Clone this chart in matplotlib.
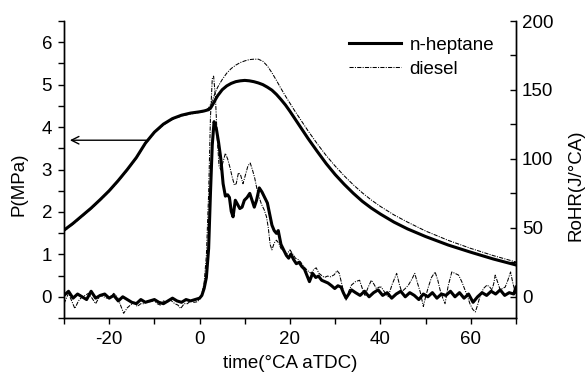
import matplotlib
matplotlib.use("Agg")
import matplotlib.pyplot as plt
from matplotlib.ticker import MultipleLocator

FS = 13.5
plt.rcParams['font.family'] = ['Liberation Sans', 'DejaVu Sans']
plt.rcParams['font.size'] = FS
plt.rcParams['axes.unicode_minus'] = False

# Cylinder pressure (MPa)
t_p_hep = [-30, -28, -26, -24, -22, -20, -18, -16, -14, -12, -10, -8, -6, -4, -2, 0,
           1, 2, 2.5, 3, 3.5, 4, 5, 6, 7, 8, 9, 10, 11, 12, 13, 14, 15, 16, 17, 18, 19, 20,
           21, 22, 23, 24, 26, 28, 30, 32, 34, 36, 38, 40, 43, 46, 50, 55, 60, 65, 70]
p_hep = [1.57, 1.73, 1.91, 2.09, 2.29, 2.50, 2.74, 3.00, 3.28, 3.62, 3.88, 4.07, 4.20, 4.28,
         4.33, 4.36,
         4.38, 4.41, 4.46, 4.55, 4.65, 4.74, 4.88, 4.97, 5.03, 5.07, 5.09, 5.10, 5.09, 5.07,
         5.04, 5.00, 4.94, 4.87, 4.77, 4.65, 4.52, 4.37, 4.21, 4.05, 3.89, 3.73, 3.43, 3.14,
         2.88, 2.65, 2.44, 2.25, 2.09, 1.95, 1.76, 1.60, 1.42, 1.22, 1.05, 0.89, 0.75]

t_p_die = [-30, -28, -26, -24, -22, -20, -18, -16, -14, -12, -10, -8, -6, -4, -2, 0,
           1, 2, 2.5, 3, 3.5, 4, 4.5, 5, 6, 7, 8, 9, 10, 11, 12, 13, 14, 15, 16, 17, 18, 19,
           20, 21, 22, 23, 24, 26, 28, 30, 32, 34, 36, 38, 40, 43, 46, 50, 55, 60, 65, 70]
p_die = [1.55, 1.71, 1.89, 2.07, 2.27, 2.48, 2.72, 2.98, 3.26, 3.60, 3.86, 4.05, 4.18, 4.26,
         4.31, 4.34,
         4.37, 4.45, 4.55, 4.68, 4.82, 4.94, 5.03, 5.12, 5.27, 5.38, 5.46, 5.52, 5.56, 5.59,
         5.60, 5.60, 5.55, 5.44, 5.28, 5.10, 4.91, 4.73, 4.56, 4.39, 4.23, 4.07, 3.91, 3.61,
         3.33, 3.08, 2.85, 2.64, 2.45, 2.28, 2.13, 1.93, 1.76, 1.55, 1.33, 1.14, 0.97, 0.82]

# Rate of heat release (J/°CA)
t_r_hep = [-30, -29, -28, -27, -26, -25, -24, -23, -22, -21, -20, -19, -18, -17, -16, -15, -14,
           -13, -12, -11, -10, -9, -8, -7, -6, -5, -4, -3, -2, -1, 0,
           0.5, 1.0, 1.5, 2.0, 2.4, 2.8, 3.2, 3.7, 4.2, 4.7, 5.2, 5.7, 6.2, 6.6, 7.0, 7.4, 7.9,
           8.4, 8.9, 9.4, 9.9, 10.5, 11.1, 11.6, 12.1, 12.6, 13.2, 13.8, 14.4, 15.0, 15.5, 16.0,
           16.5, 17.0, 17.4, 18.0, 18.6, 19.2, 19.7, 20.2, 20.8, 21.4, 22.0, 22.6, 23.2, 23.8,
           24.3, 25.0, 25.7, 26.3, 27.0, 27.7, 28.4, 29.2, 29.9, 30.6, 31.3, 31.8, 32.4, 33.0,
           33.6, 34.5, 35.5, 36.5, 37.5, 38.5, 39.5, 40.5, 41.5, 42.5, 43.5, 44.5, 45.5, 46.5,
           47.5, 48.5, 49.5, 50.5, 51.5, 52.5, 53.5, 54.5, 55.5, 56.5, 57.5, 58.5, 59.5, 60.5,
           61.5, 62.5, 63.5, 64.5, 65.5, 66.5, 67.5, 68.5, 69.5, 70]
r_hep = [1, 4, -1, 2, 0, -2, 4, -1, 1, 2, -1, 1, -3, 0, -2, -4, -5, -2, -4, -3, -2, -4, -5, -3,
         -1, -3, -4, -2, -3, -2, -1,
         1, 6, 14, 35, 75, 110, 127, 122, 112, 100, 82, 73, 74, 72, 62, 58, 70,
         67, 64, 65, 70, 72, 75, 70, 65, 70, 79, 76, 72, 68, 60, 52,
         48, 46, 48, 38, 34, 30, 28, 31, 27, 24, 25, 22, 20, 15,
         11, 17, 14, 15, 12, 11, 10, 8, 6, 8, 7, 3, -1, 2,
         5, 3, 1, 4, 0, 3, 5, 1, 3, -1, 2, 4, 0, 3,
         1, -2, 2, 0, 3, -1, 2, 1, 4, 0, 3, -1, 2, -4,
         0, 3, 1, 4, 2, 5, 1, 3, 2, 7]

t_r_die = [-30, -29, -28.3, -27.6, -26.8, -26, -25.3, -24.6, -23.8, -23, -22, -21.2, -20.5,
           -19.7, -19, -18.2, -17.5, -16.8, -16, -15.3, -14.5, -13.8, -13, -12.4, -11.5, -10.8,
           -10.1, -9.4, -8.7, -8, -7.2, -6.4, -5.5, -4.8, -4.2, -3.4, -2.7, -2, -1.2, -0.5, 0,
           0.5, 1.0, 1.5, 2.0, 2.4, 2.8, 3.1, 3.5, 3.9, 4.3, 4.7, 5.2, 5.7, 6.2, 6.7, 7.2, 7.7,
           8.1, 8.6, 9.1, 9.6, 10.1, 10.7, 11.2, 11.7, 12.2, 12.7, 13.2, 13.7, 14.3, 14.8, 15.2,
           15.6, 16.0, 16.5, 17.0, 17.5, 18.0, 18.6, 19.3, 20.0, 20.6, 21.2, 21.8, 22.4, 23.0,
           23.6, 24.2, 24.7, 25.3, 25.8, 26.4, 26.9, 27.6, 28.3, 29.0, 29.8, 30.4, 30.9, 31.4,
           31.9, 32.4, 33.0, 33.6, 34.5, 35.4, 36.0, 36.6, 37.3, 38.0, 38.6, 39.1, 39.7, 40.2,
           41.0, 41.7, 42.6, 43.6, 44.2, 44.7, 45.5, 46.2, 47.0, 47.6, 48.2, 48.8, 49.5, 50.0,
           50.6, 51.3, 52.1, 52.7, 53.2, 53.8, 54.3, 55.0, 55.8, 56.5, 57.3, 58.0, 58.7, 59.3,
           59.8, 60.4, 61.0, 61.5, 62.1, 62.8, 63.6, 64.2, 64.7, 65.1, 65.4, 65.9, 66.5, 67.0,
           67.6, 68.2, 68.8, 69.3, 69.9, 70]
r_die = [-5, 2.5, -3, -8.5, -3, 0, 1, 2.5, -1, -5, 1, 0, -1,
         0, 2.5, 0, -6, -12, -8, -6, -4, -7, -5, -5, -3, -4,
         -2.4, -5, -6, -3, -4, -2.4, -5, -6, -8.5, -5, -5, -3, -4, -3.6, -2,
         2, 10, 30, 75, 130, 158, 160, 145, 115, 95, 92, 98, 104, 100, 94, 87, 81,
         82, 90, 88, 82, 88, 95, 97, 92, 86, 78, 72, 67, 63, 58, 50,
         38, 34, 39, 41, 39, 35, 33, 31, 34, 31, 28, 27, 25, 22,
         20, 18, 17, 20, 21, 17, 15.7, 14, 15, 14.5, 16, 19, 17, 10,
         3, -2.4, 4, 8.5, 11, 12, 6, 1, 7, 12, 9, 6, 7, 7,
         3, 0, 9, 17, 9, 3.6, 6, 8.5, 13, 17, 10, 3.6, -7, 0,
         7, 14, 18, 12, 5, -1, -5, 8, 18, 17, 15.7, 11, 5, 0,
         -5, -9, -11, -6, 1, 6, 8.5, 7, 5, 10, 15.7, 11, 5, 6,
         7, 12, 18, 10, 2.5, 3]

labels = ['n-heptane', 'diesel']
heptane_style = dict(color='black', lw=2.2, ls='-')
diesel_style = dict(color='black', lw=0.75, ls=(0, (4, 1.2, 1, 1.2)))

fig = plt.figure(figsize=(5.87, 3.78), dpi=100)
ax = fig.add_axes([64 / 587, 60 / 378, 452 / 587, 297 / 378])
ax2 = ax.twinx()

ax.plot(t_p_die, p_die, **diesel_style)
ax.plot(t_p_hep, p_hep, **heptane_style)
ax2.plot(t_r_die, r_die, **diesel_style)
ax2.plot(t_r_hep, r_hep, **heptane_style)

ax.set_xlim(-30, 70)
ax.set_ylim(-0.5, 6.5)
ax2.set_ylim(-0.5 * 200 / 6.5, 200)

ax.xaxis.set_major_locator(MultipleLocator(20))
ax.xaxis.set_minor_locator(MultipleLocator(10))
ax.yaxis.set_major_locator(MultipleLocator(1))
ax.yaxis.set_minor_locator(MultipleLocator(0.5))
ax2.yaxis.set_major_locator(MultipleLocator(50))
ax2.yaxis.set_minor_locator(MultipleLocator(25))

for a in (ax, ax2):
    a.spines['top'].set_visible(False)
    for s in a.spines.values():
        s.set_linewidth(1.0)
ax.tick_params(axis='x', which='major', direction='out', length=4.2, width=1,
               labelsize=FS, pad=5)
ax.tick_params(axis='y', which='major', direction='out', length=4.2, width=1,
               labelsize=FS, pad=4.3)
ax.tick_params(axis='both', which='minor', direction='out', length=4.2, width=1)
ax2.tick_params(axis='y', which='major', direction='in', length=4.2, width=1,
                labelsize=FS, pad=4.3)
ax2.tick_params(axis='y', which='minor', direction='in', length=4.2, width=1)

ax.set_xlabel('time(°CA aTDC)', fontsize=FS, labelpad=5)
ax.set_ylabel('P(MPa)', fontsize=FS)
ax2.set_ylabel('RoHR(J/°CA)', fontsize=FS)
ax.yaxis.set_label_coords(-0.08, 0.45)
ax2.yaxis.set_label_coords(1.113, 0.448)

ax.annotate('', xy=(-28.7, 3.69), xytext=(-11.8, 3.69),
            arrowprops=dict(arrowstyle='->', lw=1.0, color='black', shrinkA=0, shrinkB=0))

h1, = ax.plot([], [], **heptane_style)
h2, = ax.plot([], [], **diesel_style)
fig.legend([h1, h2], labels, loc='upper left', bbox_to_anchor=(340 / 587, 1 - 27 / 378),
           frameon=False, borderpad=0, handlelength=2.77, handletextpad=0.44,
           labelspacing=0.39, fontsize=FS)

fig.savefig('out.png', dpi=100)
